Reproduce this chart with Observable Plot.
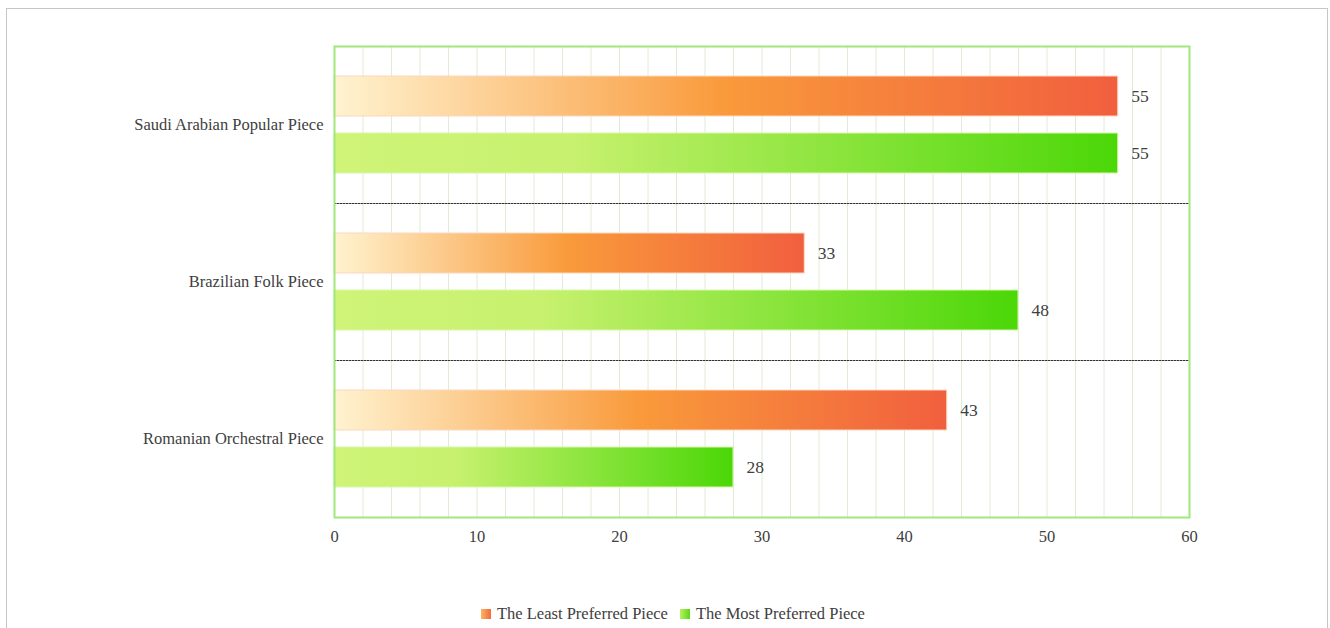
<!DOCTYPE html>
<html>
<head>
<meta charset="utf-8">
<script src="https://cdn.jsdelivr.net/npm/d3@7"></script>
<script src="https://cdn.jsdelivr.net/npm/@observablehq/plot@0.6"></script>
<style>
  body { margin: 0; background: #fff; font-family: "Liberation Serif", "Times New Roman", serif; }
  #page { position: relative; width: 1330px; height: 628px; overflow: hidden; background: #fff; }
  #border { position: absolute; left: 6px; top: 8px; width: 1322px; height: 700px; border: 1px solid #c6c6c6; box-sizing: border-box; }
  #chart { position: absolute; left: 0; top: 0; }
  #legend { position: absolute; top: 604px; left: 481px; display: flex; align-items: center; font-size: 16.5px; line-height: 20px; color: #404040; white-space: nowrap; }
  #legend .sw { width: 10px; height: 10px; display: inline-block; }
  #legend .least { background: linear-gradient(to right, #fbb463, #f16a3a); margin-right: 6px; }
  #legend .most { background: linear-gradient(to right, #b9f064, #5ad816); margin-left: 12px; margin-right: 6px; }
</style>
</head>
<body>
<div id="page">
  <div id="border"></div>
  <svg width="0" height="0" style="position:absolute">
    <defs>
      <linearGradient id="gradLeast" x1="0" y1="0" x2="1" y2="0">
        <stop offset="0" stop-color="#fff3d0"/>
        <stop offset="0.5" stop-color="#f99a3b"/>
        <stop offset="1" stop-color="#f15f3e"/>
      </linearGradient>
      <linearGradient id="gradMost" x1="0" y1="0" x2="1" y2="0">
        <stop offset="0" stop-color="#cff478"/>
        <stop offset="0.3" stop-color="#c8f16f"/>
        <stop offset="1" stop-color="#4bd708"/>
      </linearGradient>
    </defs>
  </svg>
  <div id="chart"></div>
  <div id="legend"></div>
</div>
<script>
// Preference counts per music piece
const categories = ["Saudi Arabian Popular Piece", "Brazilian Folk Piece", "Romanian Orchestral Piece"];
const seriesNames = ["The Least Preferred Piece", "The Most Preferred Piece"];
const leastValues = [55, 33, 43];
const mostValues = [55, 48, 28];
const xTicks = [0, 10, 20, 30, 40, 50, 60];
const gridTicks = [0, 2, 4, 6, 8, 10, 12, 14, 16, 18, 20, 22, 24, 26, 28, 30, 32, 34, 36, 38, 40, 42, 44, 46, 48, 50, 52, 54, 56, 58, 60];

const rows = categories.flatMap((c, i) => [
  {category: c, series: seriesNames[0], value: leastValues[i]},
  {category: c, series: seriesNames[1], value: mostValues[i]}
]);
const leastRows = rows.filter(d => d.series === seriesNames[0]);
const mostRows = rows.filter(d => d.series === seriesNames[1]);

const chart = Plot.plot({
  width: 1330,
  height: 560,
  marginLeft: 334,
  marginRight: 141,
  marginTop: 45,
  marginBottom: 43,
  style: {fontFamily: "'Liberation Serif', 'Times New Roman', serif", fontSize: "16.5px", color: "#404040", background: "transparent"},
  x: {domain: [0, 60], ticks: xTicks, tickSize: 0, tickPadding: 13, label: null},
  y: {domain: seriesNames, paddingInner: 0.293, paddingOuter: 0.5, axis: null},
  fy: {domain: categories, padding: 0, label: null, axis: "left", tickSize: 0, tickPadding: 11},
  marks: [
    Plot.gridX(gridTicks, {stroke: "#e2ebd8", strokeOpacity: 1}),
    Plot.frame({anchor: "bottom", stroke: "#333", strokeDasharray: "1.5,1.5"}),
    Plot.barX(leastRows, {x: "value", y: "series", fy: "category", fill: "url(#gradLeast)", stroke: "#fbd7bf", strokeWidth: 1}),
    Plot.barX(mostRows, {x: "value", y: "series", fy: "category", fill: "url(#gradMost)", stroke: "#d8f7a8", strokeWidth: 1}),
    Plot.text(rows, {x: "value", y: "series", fy: "category", text: d => String(d.value), textAnchor: "start", dx: 13, fontSize: 17.5, fill: "#404040"}),
    Plot.frame({facet: "super", stroke: "#9fe879", strokeWidth: 2})
  ]
});
document.getElementById("chart").appendChild(chart);

// Legend below the chart
const legend = document.getElementById("legend");
legend.innerHTML =
  `<span class="sw least"></span><span>${seriesNames[0]}</span>` +
  `<span class="sw most"></span><span>${seriesNames[1]}</span>`;
</script>
</body>
</html>
